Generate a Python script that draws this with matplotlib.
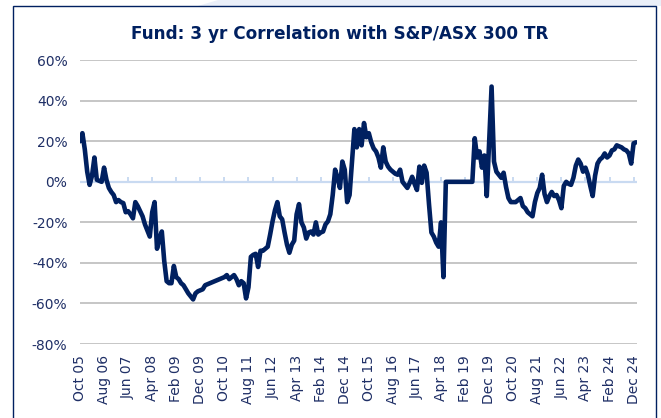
import matplotlib.pyplot as plt
from matplotlib.patches import Rectangle, Polygon

# monthly correlation (%), Oct 2005 .. May 2025
corr = [
    20, 24, 16, 5, -1.5, 3, 12, 1, 0.5, 0, 7, 1,                      # Oct05-Sep06
    -3, -5, -6.5, -10, -9, -10, -10.5, -15, -14.5, -16, -18, -10,      # Oct06-Sep07
    -12, -14.5, -17, -21, -24, -27, -15, -10, -33, -28, -24.5, -39,    # Oct07-Sep08
    -49, -50, -50, -41.5, -47, -48, -50, -51, -53, -55, -56.5, -58,    # Oct08-Sep09
    -55, -54, -53.5, -53, -51, -50.5, -50, -49.5, -49, -48.5, -48, -47.5,
    -47, -46, -48, -47, -46, -48, -51, -49, -50, -57.5, -52, -37,
    -36, -35.5, -42, -34, -34, -33, -32, -26, -19.5, -14, -10, -17,
    -18.5, -25, -31, -35, -31, -29, -16, -11, -20, -22.5, -28, -25,
    -24.5, -26, -20, -26, -25, -24.5, -21, -19.5, -16, -6.5, 6, 2,
    -3, 10, 6, -10, -6.5, 10, 26, 17, 26, 18, 29, 22,
    24, 19.5, 16.5, 15, 12, 7, 17, 10, 7.5, 6, 5, 4,
    3.5, 6, 0, -1.5, -3, -0.5, 2.5, -1, -4, 7.5, -0.5, 8,
    4.5, -11, -25, -27, -30, -32, -20, -47, 0, 0, 0, 0,
    0, 0, 0, 0, 0, 0, 0, 0, 21.5, 12, 15, 7,
    13, -7, 20, 47, 10, 5, 3.5, 2, 4.5, -2.5, -8, -10,
    -10, -10, -9, -8, -12, -13, -15, -16, -17, -10, -5.5, -3,
    3.5, -6, -10, -7, -5, -7, -6.5, -9, -13, -2, 0, -1,
    -1.5, 2, 8, 11, 9, 5, 7, 3.5, -2, -7, 3, 9,
    11, 12, 14, 12, 13, 15.5, 16, 18, 17.5, 17, 16, 15.5,
    14, 9, 19, 19.5,
]

tick_labels = ['Oct 05', 'Aug 06', 'Jun 07', 'Apr 08', 'Feb 09', 'Dec 09',
               'Oct 10', 'Aug 11', 'Jun 12', 'Apr 13', 'Feb 14', 'Dec 14',
               'Oct 15', 'Aug 16', 'Jun 17', 'Apr 18', 'Feb 19', 'Dec 19',
               'Oct 20', 'Aug 21', 'Jun 22', 'Apr 23', 'Feb 24', 'Dec 24']
tick_pos = list(range(0, 10 * len(tick_labels), 10))

navy = '#002060'
text_col = '#1f2f66'

fig = plt.figure(figsize=(6.61, 4.18), dpi=100)

# light tint behind the frame at the top right + frame border
fig.patches.append(Polygon([[0.33, 1], [1, 1], [1, 0.985], [0.30, 0.985]],
                           closed=True, transform=fig.transFigure,
                           facecolor='#eaeff9', edgecolor='none', zorder=-2))
fig.patches.append(Rectangle((0.019, -0.05), 0.974, 1.035, transform=fig.transFigure,
                             facecolor='white', edgecolor=navy, lw=1.0, zorder=-1))

ax = fig.add_axes([0.121, 0.177, 0.843, 0.679])
ax.set_facecolor('none')
ax.set_zorder(2)

x = list(range(len(corr)))
ax.plot(x, corr, color=navy, lw=3.3, solid_joinstyle='round', solid_capstyle='round', zorder=3)

ax.set_ylim(-80, 60)
ax.set_xlim(0, len(corr) - 0.5)
ax.set_yticks(range(-80, 61, 20))
ax.set_yticklabels([f'{v}%' for v in range(-80, 61, 20)])
for v in range(-80, 61, 20):
    if v != 0:
        ax.axhline(v, color='#bcbcbc', lw=1.2, zorder=1)
ax.axhline(0, color='#c9daf1', lw=1.6, zorder=2)
ax.vlines(tick_pos[1:], 0, 2.2, color='#c9daf1', lw=1.4, zorder=2)

ax.set_xticks(tick_pos)
ax.set_xticklabels(tick_labels, rotation=90)
ax.tick_params(axis='both', length=0, labelsize=10, labelcolor=text_col)
ax.tick_params(axis='y', pad=9)
ax.tick_params(axis='x', pad=8)
for s in ax.spines.values():
    s.set_visible(False)

fig.text(0.514, 0.918, 'Fund: 3 yr Correlation with S&P/ASX 300 TR', ha='center', va='center',
         fontsize=12.2, fontweight='bold', color=navy)

fig.savefig('out.png', dpi=100)
